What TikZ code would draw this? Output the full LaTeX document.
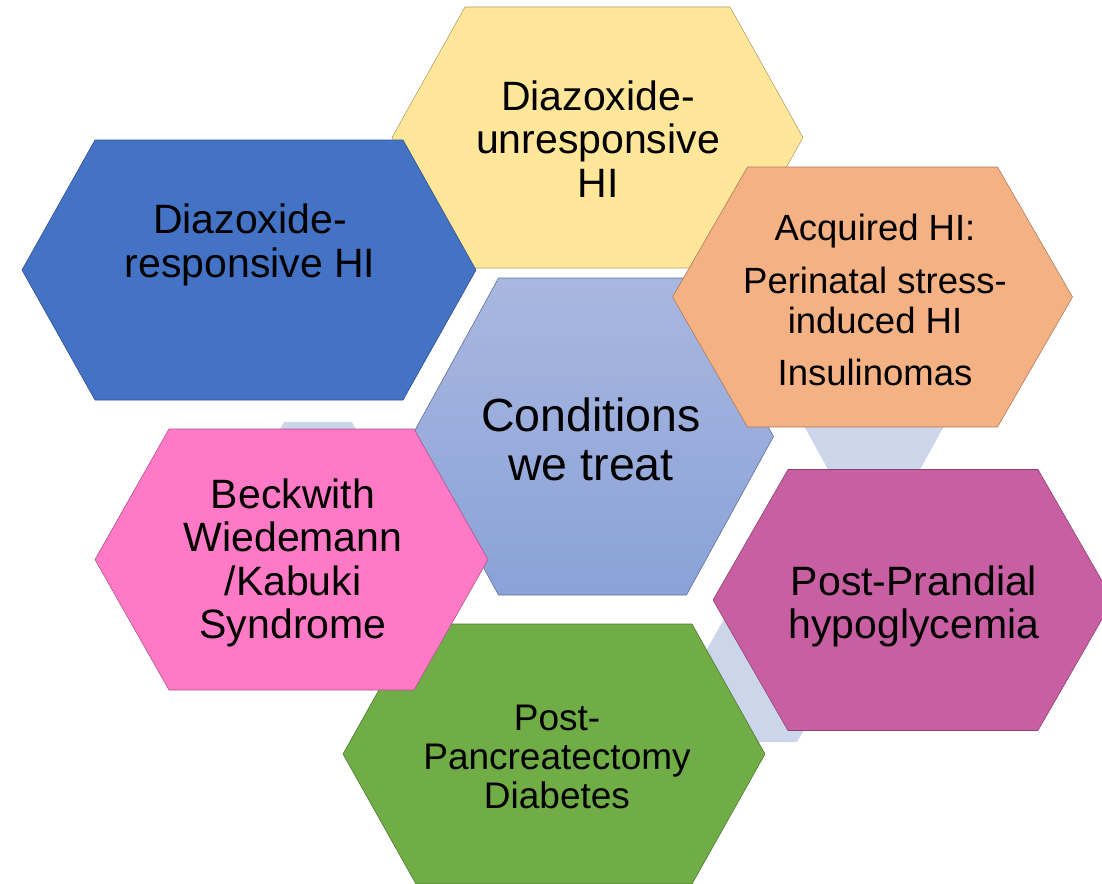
\documentclass[tikz,border=0pt]{standalone}
\usepackage{fontspec}
\setmainfont{Liberation Sans}

\definecolor{cellyellow}{HTML}{FFE699}
\definecolor{cellblue}{HTML}{4472C4}
\definecolor{cellorange}{HTML}{F4B183}
\definecolor{cellmagenta}{HTML}{C95FA3}
\definecolor{cellgreen}{HTML}{70AD47}
\definecolor{cellpink}{HTML}{FF7AC6}
\definecolor{centertop}{HTML}{A9B7E0}
\definecolor{centerbottom}{HTML}{8AA2D8}
\definecolor{linkfill}{HTML}{CDD5EA}

% flat-topped hexagon: style, centre x, centre y, half width, half height, inset
\newcommand{\hexcell}[6]{%
  \draw[hexcell,#1] (#2-#4,#3) -- (#2-#4+#6,#3-#5) -- (#2+#4-#6,#3-#5)
    -- (#2+#4,#3) -- (#2+#4-#6,#3+#5) -- (#2-#4+#6,#3+#5) -- cycle;}

\begin{document}
\begin{tikzpicture}[x=1pt,y=-1pt]
          \tikzset{hexcell/.style = {line width=0.6pt, line join=round}}
          \tikzset{celltext/.style = {align=center, text=black, inner sep=0pt}}
          \tikzset{link/.style = {fill=linkfill, draw=none}}

          \clip (0,0) rectangle (1102,883);

          % links behind the cells
          \path[link] (284,422) -- (352,422) -- (362,440) -- (274,440) -- cycle;
          \path[link] (798,415) -- (950,415) -- (917,475) -- (831,475) -- cycle;
          \path[link] (735,600) -- (695,670) -- (738,742) -- (797,742)
                      -- (840,668) -- (800,598) -- cycle;

          \hexcell{fill=cellyellow, draw=cellyellow!70!black}{597.5}{137.5}{205.5}{130.5}{73}
          \hexcell{fill=cellblue, draw=cellblue!70!black}{249}{270}{227}{130}{73}
          \hexcell{top color=centertop, bottom color=centerbottom,
                   draw=centerbottom!70!black}{592.5}{436.5}{181}{158.5}{87}
          \hexcell{fill=cellorange, draw=cellorange!70!black}{872.5}{297}{200}{130}{75}
          \hexcell{fill=cellmagenta, draw=cellmagenta!70!black}{913}{600}{200}{130.5}{75}
          \hexcell{fill=cellgreen, draw=cellgreen!70!black}{554}{754}{211}{130}{73}
          \hexcell{fill=cellpink, draw=cellpink!70!black}{291.5}{559.5}{196.5}{130.5}{74}

          \node[celltext, font=\fontsize{41}{43.5}\selectfont] (unresponsive) at (598,139)
            {Diazoxide-\\unresponsive\\HI};
          \node[celltext, font=\fontsize{41}{44}\selectfont] (responsive) at (250,245)
            {Diazoxide-\\responsive HI};
          \node[celltext, font=\fontsize{46.5}{49}\selectfont] (treat) at (591,439)
            {Conditions\\we treat};
          \node[celltext, font=\fontsize{36.5}{40}\selectfont] (acquired) at (875,300)
            {Acquired HI:\\[13pt]Perinatal stress-\\induced HI\\[12pt]Insulinomas};
          \node[celltext, font=\fontsize{41}{43}\selectfont] (prandial) at (914,606)
            {Post-Prandial\\hypoglycemia};
          \node[celltext, font=\fontsize{37}{39}\selectfont] (pancreatectomy) at (557,757)
            {Post-\\Pancreatectomy\\Diabetes};
          \node[celltext, font=\fontsize{41}{43.5}\selectfont] (beckwith) at (293,563)
            {Beckwith\\Wiedemann\\/Kabuki\\Syndrome};
        \end{tikzpicture}
\end{document}
